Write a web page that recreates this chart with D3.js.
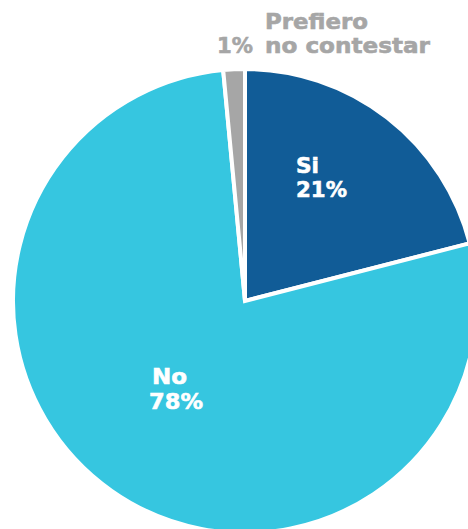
<!DOCTYPE html>
<html><head><meta charset="utf-8">
<script src="https://cdn.jsdelivr.net/npm/d3@7"></script>
<style>html,body{margin:0;padding:0;background:#fff;}</style>
</head><body>
<svg id="c" width="468" height="529"></svg>
<script>
const categories = ["Si", "No", "Prefiero no contestar"];
const values = [21, 77.5, 1.5];
const labels = ["21%", "78%", "1%"];
const colors = ["#115C97", "#36C6E0", "#A6A6A6"];

const svg = d3.select("#c");
const cx = 245, cy = 301, r = 232;
const g = svg.append("g").attr("transform", `translate(${cx},${cy})`);
const pie = d3.pie().sort(null).value(d => d.v);
const data = categories.map((c, i) => ({c, v: values[i], l: labels[i], col: colors[i]}));
const arcs = pie(data);
const arc = d3.arc().innerRadius(0).outerRadius(r);
g.selectAll("path").data(arcs).enter().append("path")
  .attr("d", arc).attr("fill", d => d.data.col)
  .attr("stroke", "#fff").attr("stroke-width", 4).attr("stroke-linejoin", "miter");

const font = "'DejaVu Sans', sans-serif";
function txt(x, y, s, fill, w) {
  const t = svg.append("text").attr("x", x).attr("y", y).text(s)
    .attr("fill", fill).attr("stroke", fill).attr("stroke-width", 0.6)
    .attr("font-family", font).attr("font-weight", "bold")
    .attr("font-size", 22);
  if (w) t.attr("textLength", w).attr("lengthAdjust", "spacingAndGlyphs");
  return t;
}
txt(296, 173, categories[0], "#fff", 23);
txt(296, 197, labels[0], "#fff", 51);
txt(152, 384, categories[1], "#fff", 35);
txt(149, 409, labels[1], "#fff", 54);
txt(265, 29, "Prefiero", "#A6A6A6", 103);
txt(265, 53, "no contestar", "#A6A6A6", 165);
txt(217, 53, labels[2], "#A6A6A6", 36);
</script>
</body></html>
